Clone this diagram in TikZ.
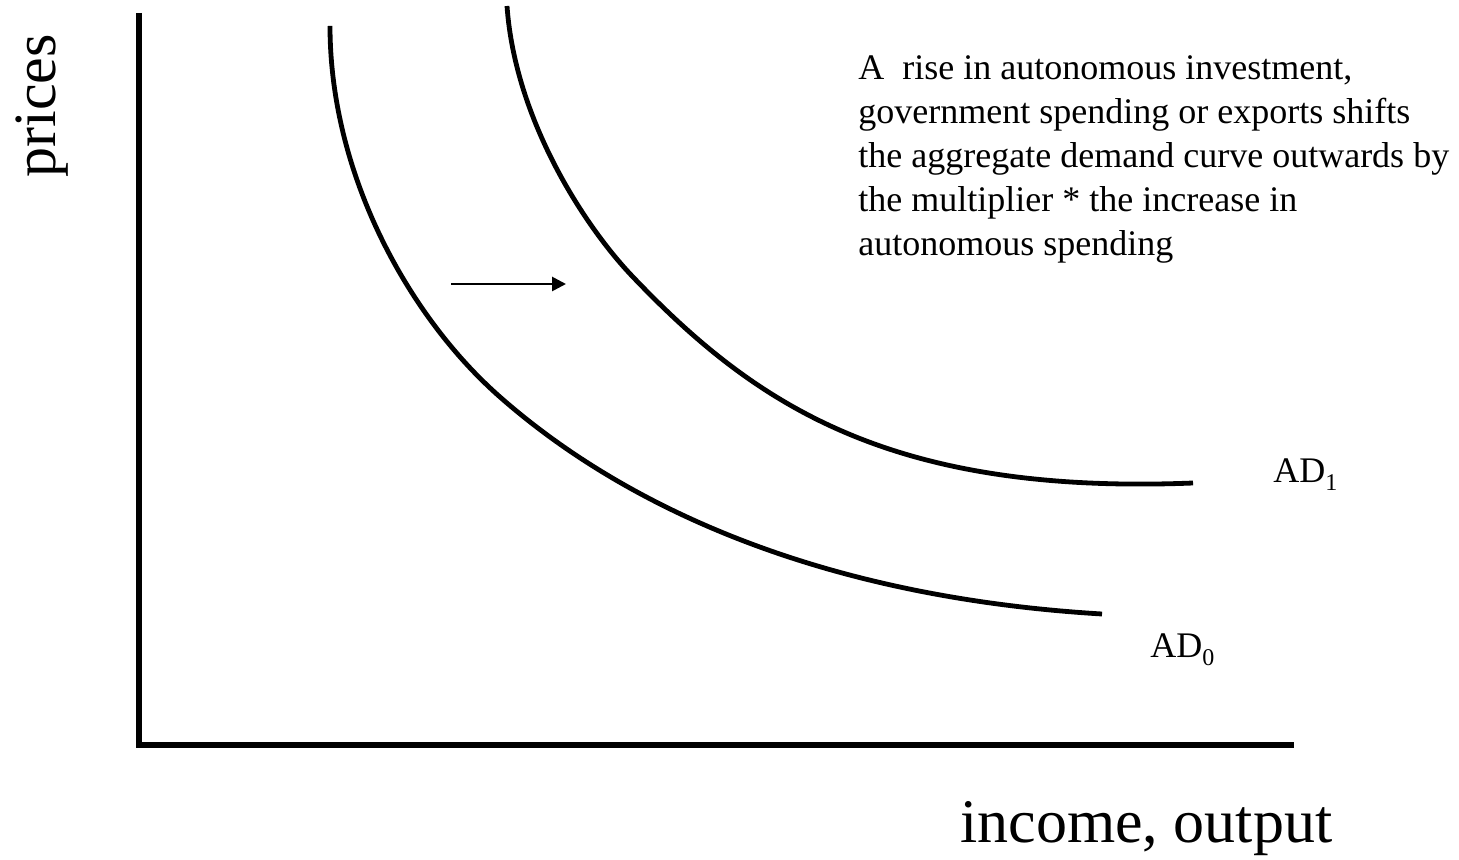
\documentclass[tikz,border=0pt]{standalone}
\usepackage{fontspec}
\setmainfont{Liberation Serif}
\usetikzlibrary{arrows.meta}
\begin{document}
\begin{tikzpicture}[x=0.5pt,y=-0.5pt,
  axisline/.style={line width=3pt,line join=miter,line cap=butt},
  adcurve/.style={line width=2.4pt},
  shiftarrow/.style={line width=1.35pt,-{Triangle[length=7pt,width=7pt]}},
  bigtext/.style={font=\fontsize{30}{36}\selectfont,inner sep=0pt},
  note/.style={font=\fontsize{18}{22}\selectfont,inner sep=0pt,align=left},
  adlabel/.style={font=\fontsize{18}{22}\selectfont,inner sep=0pt,anchor=base west}]
\useasboundingbox (0,0) rectangle (1459,860);
% axes
\coordinate (ytop) at (138.7,13);
\coordinate (origin) at (138.7,744.7);
\coordinate (xend) at (1294,744.7);
\draw[axisline] (ytop) -- (origin) -- (xend);
% axis labels
\node[bigtext,rotate=90,anchor=base west] (ylab) at (55,178) {prices};
\node[bigtext,font=\fontsize{31}{36}\selectfont,anchor=base west] (xlab) at (960,842) {income, output};
% AD curves
\draw[adcurve] (330,26) .. controls (330,176) and (410,318) .. (500,397)
                        .. controls (612.5,496) and (802,596) .. (1102,614);
\draw[adcurve] (507,6) .. controls (515,120) and (585,227) .. (633,277)
                       .. controls (757,407) and (893,495) .. (1193,483);
% labels
\node[adlabel] (ad1) at (1273,482) {AD\raisebox{-4pt}{\fontsize{12}{12}\selectfont 1}};
\node[adlabel] (ad0) at (1150,657) {AD\raisebox{-4pt}{\fontsize{12}{12}\selectfont 0}};
% shift arrow
\coordinate (arrs) at (451,284);
\coordinate (arre) at (566,284);
\draw[shiftarrow] (arrs) -- (arre);
% note
\node[note,anchor=north west] (txt) at (858,55) {A\ \ rise in autonomous investment,\\government spending or exports shifts\\the aggregate demand curve outwards by\\the multiplier * the increase in\\autonomous spending};
\end{tikzpicture}
\end{document}
